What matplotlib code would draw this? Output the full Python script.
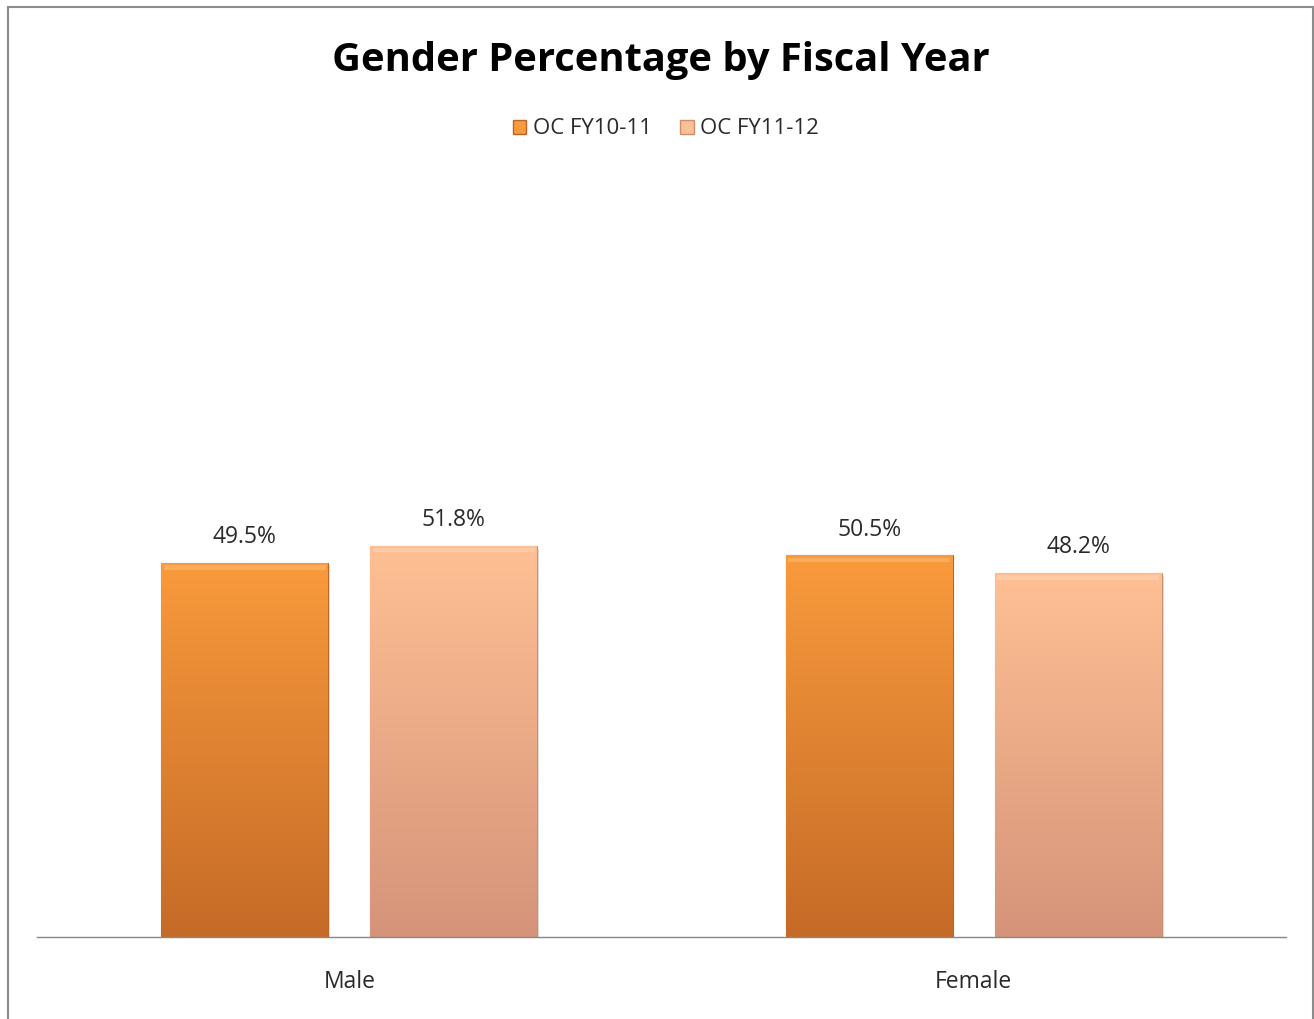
import matplotlib
matplotlib.use("Agg")
import matplotlib.pyplot as plt
import numpy as np
from matplotlib.colors import LinearSegmentedColormap
from matplotlib.lines import Line2D
from matplotlib.patches import Rectangle

categories = ["Male", "Female"]
series_names = ["OC FY10-11", "OC FY11-12"]
fy10_11 = [49.5, 50.5]
fy11_12 = [51.8, 48.2]

W, H = 1314, 1019
fig = plt.figure(figsize=(W / 100, H / 100), dpi=100)
plt.rcParams['font.family'] = ['Open Sans', 'DejaVu Sans']

# axes placement in pixels
x0, x1 = 37, 1286
y0, y1 = 937, 181.5
ax = fig.add_axes([x0 / W, 1 - y0 / H, (x1 - x0) / W, (y0 - y1) / H])
ax.set_xlim(-0.5, 1.5)
ax.set_ylim(0, 100)

x = np.arange(len(categories))
width = 0.267
offset = 0.1675
grads = [("#F99A3C", "#C56B27"), ("#FEC093", "#D5947A")]
edges = ["#B8662A", "#C98F74"]
for i, (vals, name) in enumerate(zip([fy10_11, fy11_12], series_names)):
    pos = x + (-offset if i == 0 else offset)
    bars = ax.bar(pos, vals, width, color=grads[i][0], edgecolor=edges[i],
                  linewidth=0.8, label=name, zorder=2)
    cmap = LinearSegmentedColormap.from_list("g%d" % i, [grads[i][1], grads[i][0]])
    for b, v in zip(bars, vals):
        bx, bw = b.get_x(), b.get_width()
        # shadow
        ax.add_patch(Rectangle((bx + 0.003, -0.4), bw, v, facecolor="#000000",
                               alpha=0.12, zorder=1, linewidth=0))
        grad = np.linspace(0, 1, 256).reshape(-1, 1)
        im = ax.imshow(grad, cmap=cmap, aspect="auto", origin="lower",
                       extent=[bx, bx + bw, 0, v], zorder=2.5)
        im.set_clip_path(b)
        # subtle top bevel
        ax.add_patch(Rectangle((bx + 0.004, v - 0.9), bw - 0.008, 0.6, facecolor="white",
                               alpha=0.18, zorder=3, linewidth=0))
        ax.text(bx + bw / 2, v + 3.4, f"{v:.1f}%", ha="center",
                va="center", fontsize=16.5, color="#2a2a2a")

ax.set_xlim(-0.5, 1.5)
ax.set_ylim(0, 100)
ax.set_xticks(x)
ax.set_xticklabels(categories, fontsize=16.5, color="#2a2a2a")
ax.tick_params(axis="x", length=0, pad=24)
ax.set_yticks([])
for s in ["top", "right", "left"]:
    ax.spines[s].set_visible(False)
ax.spines["bottom"].set_color("#888888")
ax.spines["bottom"].set_linewidth(1.0)

fig.text(661 / W, 1 - 60 / H, "Gender Percentage by Fiscal Year", ha="center",
         va="center", fontsize=28.7, fontweight="bold", color="#000000")

handles = [Rectangle((0, 0), 1, 1, facecolor=grads[0][0], edgecolor=edges[0]),
           Rectangle((0, 0), 1, 1, facecolor=grads[1][0], edgecolor=edges[1])]
fig.legend(handles, series_names, loc="center", bbox_to_anchor=(666 / W, 1 - 129 / H),
           ncol=2, frameon=False, fontsize=16, handlelength=0.6, handleheight=0.6,
           handletextpad=0.3, columnspacing=1.3, labelcolor="#2a2a2a")

# chart border
for xs, ys in [([8, 8], [1019, 6.5]), ([8, 1312.5], [6.5, 6.5]), ([1312.5, 1312.5], [6.5, 1019])]:
    fig.add_artist(Line2D([v / W for v in xs], [1 - v / H for v in ys], color="#8C8C8C",
                          linewidth=1.5, transform=fig.transFigure))

fig.savefig("out.png", dpi=100)
